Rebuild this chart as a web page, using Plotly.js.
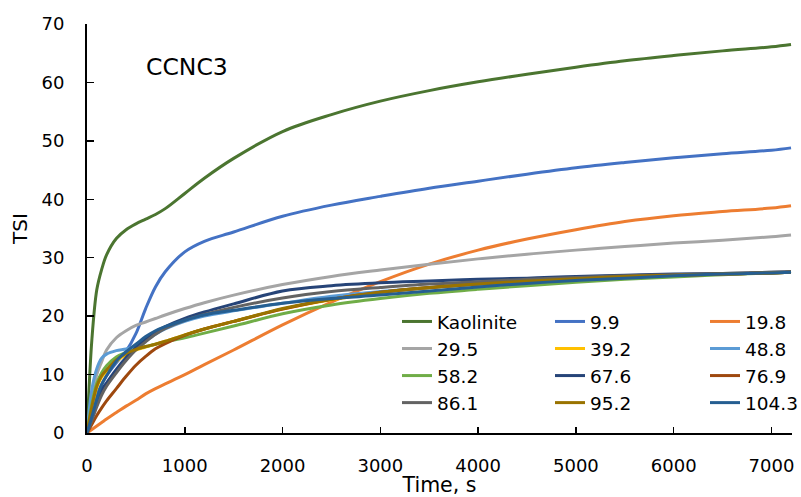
<!DOCTYPE html>
<html>
<head>
<meta charset="utf-8">
<script src="https://cdn.plot.ly/plotly-3.0.1.min.js"></script>
<style>
html,body{margin:0;padding:0;background:#fff;}
#chart{width:801px;height:497px;}
</style>
</head>
<body>
<div id="chart"></div>
<script>
// Time axis (s)
var time = [0,50,100,150,200,300,400,500,600,700,800,1000,1200,1500,2000,2500,3000,3500,4000,4500,5000,5500,6000,6500,7000,7200];

var seriesNames = ["Kaolinite","9.9","19.8","29.5","39.2","48.8","58.2","67.6","76.9","86.1","95.2","104.3"];

var kaolinite = [0,16,24.5,28,30.5,33.3,34.8,35.8,36.6,37.4,38.4,41,43.6,47,51.6,54.5,56.8,58.6,60.1,61.4,62.6,63.7,64.6,65.4,66.1,66.5];
var s9_9   = [0,3.5,6.5,8.3,9.8,12,14,17,21.3,25,27.6,31,32.8,34.4,37.1,39,40.5,41.9,43.1,44.3,45.4,46.3,47.1,47.8,48.4,48.8];
var s19_8  = [0,0.6,1.2,1.8,2.4,3.5,4.6,5.6,6.7,7.6,8.4,10,11.7,14.2,18.5,22.4,25.9,28.9,31.3,33.2,34.8,36.2,37.2,37.9,38.5,38.9];
var s29_5  = [0,6,10,12.2,14.2,16.3,17.5,18.4,19,19.6,20.2,21.3,22.3,23.6,25.4,26.8,27.9,28.9,29.8,30.6,31.3,31.9,32.5,33.0,33.6,33.9];
var s39_2  = [0,4.3,7.8,9.6,10.6,12.3,13.4,14.2,14.7,15.2,15.7,16.8,17.8,19.1,21.2,22.8,24,24.8,25.4,25.9,26.3,26.7,27,27.2,27.4,27.5];
var s48_8  = [0,7.5,11,12.8,13.5,14.1,14.4,14.9,15.8,16.9,17.8,19.1,20,20.9,22.2,23.4,24.2,24.9,25.5,25.9,26.3,26.7,27,27.2,27.4,27.5];
var s58_2  = [0,5,8.5,10.3,11.5,13,13.8,14.3,14.8,15.2,15.6,16.3,17.1,18.3,20.4,21.9,23,23.9,24.6,25.2,25.8,26.3,26.7,27.1,27.4,27.5];
var s67_6  = [0,2.5,5.2,7.4,8.6,10.9,12.9,14.6,16.0,17.3,18.2,19.6,20.7,22.1,24.3,25.2,25.7,26.0,26.3,26.5,26.8,27.0,27.2,27.3,27.5,27.6];
var s76_9  = [0,1.5,3,4.3,5.5,7.6,9.7,11.6,13.1,14.4,15.3,16.7,17.8,19.1,21.2,22.9,24.1,24.9,25.5,26.0,26.4,26.8,27.0,27.2,27.4,27.5];
var s86_1  = [0,2.2,4.5,6.5,8,10.3,12.4,14.2,15.6,16.9,17.9,19.3,20.3,21.5,23.1,24.2,24.9,25.5,25.9,26.3,26.6,26.9,27.1,27.3,27.5,27.6];
var s95_2  = [0,4.5,8,9.8,10.8,12.5,13.6,14.3,14.8,15.2,15.7,16.8,17.8,19.1,21.3,22.9,24.1,24.9,25.5,26.0,26.4,26.8,27.0,27.2,27.4,27.5];
var s104_3 = [0,2.8,5.8,8.3,9.8,12.3,13.9,15.2,16.5,17.5,18.2,19.3,20.2,21.0,22.2,23.0,23.6,24.3,25.0,25.6,26.1,26.5,26.9,27.2,27.4,27.5];

var seriesValues = [kaolinite,s9_9,s19_8,s29_5,s39_2,s48_8,s58_2,s67_6,s76_9,s86_1,s95_2,s104_3];

var xTickVals = [0,1000,2000,3000,4000,5000,6000,7000];
var xTickText = ["0","1000","2000","3000","4000","5000","6000","7000"];
var yTickVals = [0,10,20,30,40,50,60,70];
var yTickText = ["0","10","20","30","40","50","60","70"];

var colors = ["#4B7530","#4472C4","#ED7D31","#A5A5A5","#FFC000","#5B9BD5","#70AD47","#264478","#9E480E","#636363","#997300","#255E91"];
var legendIds = ["legend","legend2","legend3"];

var FONT = "'DejaVu Sans', sans-serif";

var traces = seriesNames.map(function(name, i){
  return {
    x: time,
    y: seriesValues[i],
    name: name,
    type: "scatter",
    mode: "lines",
    line: {color: colors[i], width: 3, shape: "spline", smoothing: 1},
    legend: legendIds[i % 3],
    hoverinfo: "skip"
  };
});

function legendAt(xpix){
  return {
    x: (xpix - 87) / 705,
    xanchor: "left",
    y: 0.318,
    yanchor: "top",
    bgcolor: "rgba(0,0,0,0)",
    borderwidth: 0,
    font: {family: FONT, size: 18.5, color: "#000"},
    orientation: "v",
    tracegroupgap: 0
  };
}

var layout = {
  width: 801,
  height: 497,
  margin: {l: 87, r: 9, t: 24, b: 64, autoexpand: false},
  paper_bgcolor: "#fff",
  plot_bgcolor: "#fff",
  font: {family: FONT, size: 18, color: "#000"},
  showlegend: true,
  legend: legendAt(397),
  legend2: legendAt(550),
  legend3: legendAt(705),
  xaxis: {
    range: [0, 7210],
    tickvals: xTickVals,
    ticktext: xTickText,
    ticks: "inside",
    ticklen: 6,
    tickwidth: 1.5,
    tickcolor: "#000",
    showline: true,
    linecolor: "#000",
    linewidth: 2,
    showgrid: false,
    zeroline: false,
    ticklabelstandoff: 15,
    tickfont: {family: FONT, size: 18, color: "#000"},
    title: {text: "Time, s", font: {family: FONT, size: 20.5, color: "#000"}, standoff: 0}
  },
  yaxis: {
    range: [0, 70],
    tickvals: yTickVals,
    ticktext: yTickText,
    ticks: "inside",
    ticklen: 7,
    tickwidth: 1.5,
    tickcolor: "#000",
    showline: true,
    linecolor: "#000",
    linewidth: 2,
    showgrid: false,
    zeroline: false,
    ticklabelstandoff: 17,
    tickfont: {family: FONT, size: 18, color: "#000"},
    title: {text: "TSI", font: {family: FONT, size: 20, color: "#000"}, standoff: 8}
  },
  annotations: [{
    text: "CCNC3",
    xref: "paper", yref: "paper",
    x: 0.1418, y: 0.895,
    xanchor: "center", yanchor: "middle",
    showarrow: false,
    font: {family: FONT, size: 23.5, color: "#000"}
  }]
};

Plotly.newPlot("chart", traces, layout, {displayModeBar: false, staticPlot: true});
</script>
</body>
</html>
